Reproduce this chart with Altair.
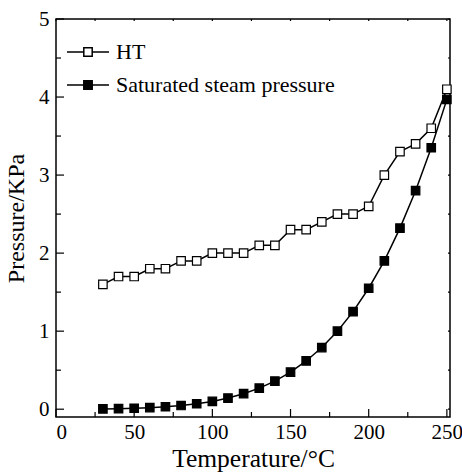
import altair as alt
import pandas as pd

temperature = [30, 40, 50, 60, 70, 80, 90, 100, 110, 120, 130, 140, 150, 160,
               170, 180, 190, 200, 210, 220, 230, 240, 250]
ht = [1.6, 1.7, 1.7, 1.8, 1.8, 1.9, 1.9, 2.0, 2.0, 2.0, 2.1, 2.1, 2.3, 2.3,
      2.4, 2.5, 2.5, 2.6, 3.0, 3.3, 3.4, 3.6, 4.1]
saturated = [0.004, 0.007, 0.012, 0.02, 0.031, 0.047, 0.07, 0.1, 0.143, 0.199,
             0.27, 0.36, 0.476, 0.618, 0.79, 1.0, 1.25, 1.55, 1.9, 2.32, 2.8,
             3.35, 3.97]
series_names = ["HT", "Saturated steam pressure"]
series_fills = ["white", "black"]

x_major = [0, 50, 100, 150, 200, 250]
x_minor = [25, 75, 125, 175, 225]
y_major = [0, 1, 2, 3, 4, 5]
y_minor = [0.5, 1.5, 2.5, 3.5, 4.5]

W, H = 394, 398
FONT = "Liberation Serif"

df = pd.DataFrame({
    "T": temperature * 2,
    "P": ht + saturated,
    "series": [series_names[0]] * len(ht) + [series_names[1]] * len(saturated),
})

xs = alt.Scale(domain=[0, 252], nice=False, zero=False)
ys = alt.Scale(domain=[-0.1, 5.0], nice=False, zero=False)
x_axis = alt.Axis(values=x_major, ticks=False, domain=False, grid=False,
                  labelPadding=4, titlePadding=4, titleFontSize=25.5)
y_axis = alt.Axis(values=y_major, ticks=False, domain=False, grid=False,
                  labelPadding=7, titlePadding=10)
X_TITLE = "Temperature/°C"
Y_TITLE = "Pressure/KPa"

x_enc = alt.X("T:Q", scale=xs, title=X_TITLE, axis=x_axis)
y_enc = alt.Y("P:Q", scale=ys, title=Y_TITLE, axis=y_axis)

legend_path = "M-1,0 H-0.2 M0.2,0 H1 M-0.2,-0.2 H0.2 V0.2 H-0.2 Z"

line = alt.Chart(df).mark_line(color="black", strokeWidth=1.5).encode(
    x=x_enc, y=y_enc, detail="series:N"
)
points = alt.Chart(df).mark_point(shape="square", filled=True, size=72,
                                  stroke="black", strokeWidth=1.2, opacity=1).encode(
    x=x_enc, y=y_enc,
    fill=alt.Fill("series:N", scale=alt.Scale(domain=series_names, range=series_fills),
                  legend=alt.Legend(title=None, orient="none", legendX=10, legendY=11,
                                    symbolType=legend_path, symbolSize=1764,
                                    symbolStrokeColor="black", symbolStrokeWidth=1.5,
                                    labelFont=FONT, labelFontSize=22, labelColor="black",
                                    labelLimit=400, labelOffset=6, rowPadding=-5,
                                    padding=0))
)

def vticks(vals, length, side):
    d = pd.DataFrame({"v": vals})
    if side == "left":
        enc = dict(x=alt.value(0), x2=alt.value(length))
    else:
        enc = dict(x=alt.value(W), x2=alt.value(W - length))
    return alt.Chart(d).mark_rule(color="black", strokeWidth=1.2).encode(
        y=alt.Y("v:Q", scale=ys, title=Y_TITLE, axis=y_axis), **enc)

def hticks(vals, length, side):
    d = pd.DataFrame({"v": vals})
    if side == "bottom":
        enc = dict(y=alt.value(H), y2=alt.value(H - length))
    else:
        enc = dict(y=alt.value(0), y2=alt.value(length))
    return alt.Chart(d).mark_rule(color="black", strokeWidth=1.2).encode(
        x=alt.X("v:Q", scale=xs, title=X_TITLE, axis=x_axis), **enc)

ticks = [
    vticks(y_major, 8, "left"), vticks(y_minor, 5, "left"),
    vticks(y_major, 2, "right"), vticks(y_minor, 2, "right"),
    hticks(x_major, 8, "bottom"), hticks(x_minor, 5, "bottom"),
    hticks(x_major, 2, "top"), hticks(x_minor, 2, "top"),
]

chart = alt.layer(*ticks, line, points).properties(
    width=W, height=H,
    padding={"left": 56, "top": 19, "right": 12, "bottom": 57},
    autosize=alt.AutoSizeParams(type="none"),
    background="white",
).configure_view(stroke="black", strokeWidth=1.5).configure_axis(
    labelFont=FONT, labelFontSize=21, labelColor="black",
    titleFont=FONT, titleFontSize=24, titleFontWeight="normal", titleColor="black",
)

chart.save("out.html", embed_options={"renderer": "svg", "actions": False})
